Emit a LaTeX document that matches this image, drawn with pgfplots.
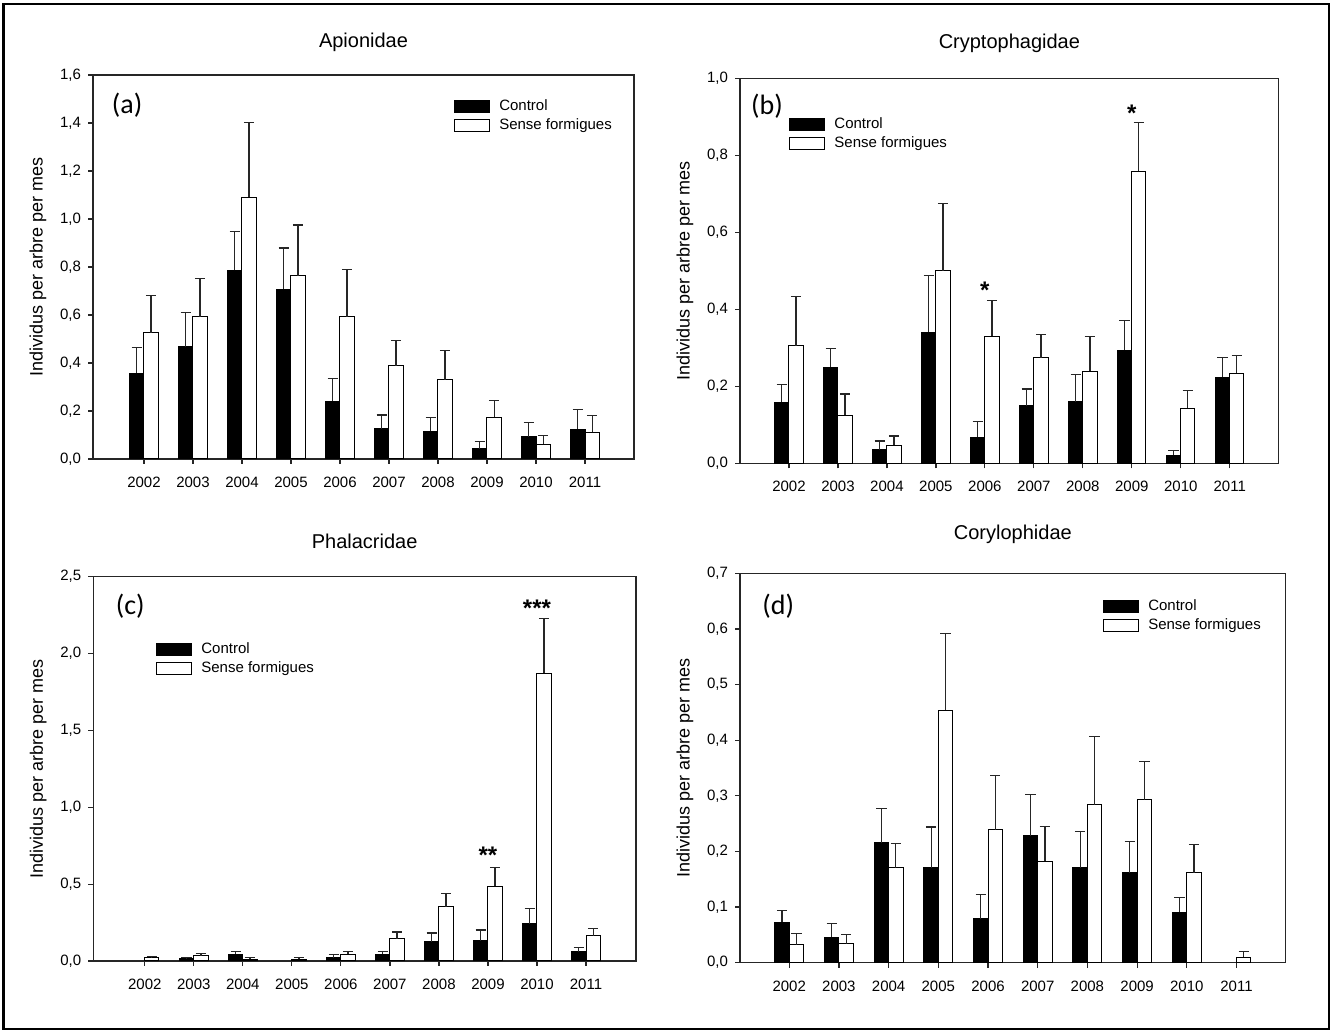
\documentclass[border=0pt]{standalone}
\usepackage{fontspec}
\setmainfont{Liberation Sans}
\newfontfamily\carlito{Carlito}
\usepackage{pgfplots}
\usepackage{pgfplotstable}
\pgfplotsset{compat=1.18}

% columns: year index, control, control se, sense formigues, sense formigues se
\pgfplotstableread{
x c ce s se
0 0.358 0.105 0.525 0.157
1 0.467 0.143 0.593 0.160
2 0.786 0.163 1.090 0.311
3 0.708 0.171 0.763 0.212
4 0.240 0.096 0.593 0.195
5 0.127 0.056 0.388 0.106
6 0.115 0.057 0.331 0.120
7 0.042 0.030 0.174 0.070
8 0.093 0.058 0.061 0.036
9 0.124 0.083 0.111 0.071
}\apion

\pgfplotstableread{
x c ce s se
0 0.159 0.046 0.305 0.128
1 0.250 0.048 0.125 0.055
2 0.035 0.023 0.047 0.024
3 0.341 0.147 0.500 0.174
4 0.068 0.041 0.330 0.093
5 0.149 0.044 0.274 0.060
6 0.160 0.070 0.239 0.091
7 0.294 0.076 0.758 0.128
8 0.021 0.012 0.143 0.047
9 0.224 0.051 0.234 0.045
}\crypto

\pgfplotstableread{
x c ce s se
0 nan nan 0.020 0.008
1 0.013 0.009 0.035 0.013
2 0.043 0.018 0.011 0.011
3 nan nan 0.011 0.011
4 0.022 0.021 0.043 0.018
5 0.043 0.018 0.146 0.043
6 0.126 0.056 0.353 0.085
7 0.132 0.070 0.486 0.121
8 0.243 0.097 1.873 0.354
9 0.059 0.028 0.163 0.047
}\phala

\pgfplotstableread{
x c ce s se
0 0.073 0.021 0.032 0.020
1 0.046 0.024 0.034 0.016
2 0.216 0.061 0.171 0.043
3 0.171 0.073 0.454 0.138
4 0.079 0.043 0.239 0.098
5 0.228 0.074 0.182 0.063
6 0.171 0.065 0.284 0.123
7 0.162 0.056 0.293 0.068
8 0.091 0.026 0.162 0.050
9 nan nan 0.010 0.010
}\coryl

\tikzset{
  letter/.style={font=\carlito\fontsize{14}{14}\selectfont},
  stars/.style={font=\fontsize{12}{12}\selectfont\bfseries},
}

\pgfplotsset{
  panel/.style={
    scale only axis,
    anchor=south west,
    ybar, bar width=0.29,
    ymin=0, enlargelimits=false,
    xtick={0,...,9},
    xticklabels={2002,2003,2004,2005,2006,2007,2008,2009,2010,2011},
    xtick pos=bottom, ytick pos=left,
    tick align=outside, major tick length=2.5pt,
    axis line style={line width=0.6pt, black!85},
    tick style={line width=0.6pt, black!85},
    tick label style={font=\fontsize{7.5}{8}\selectfont},
    xticklabel style={yshift=-3pt},
    yticklabel style={/pgf/number format/.cd, fixed, fixed zerofill, precision=1, use comma, assume math mode=true},
    ylabel={Individus per arbre per mes},
    every axis y label/.style={at={([xshift=-27.5pt]axis description cs:0,0.5)}, rotate=90, anchor=center, font=\fontsize{9}{9}\selectfont},
    every axis title/.style={at={(axis description cs:0.5,1)}, anchor=center, font=\fontsize{10}{10}\selectfont},
    legend image code/.code={\draw[#1, line width=0.5pt] (0pt,-3pt) rectangle (17.5pt,3pt);},
    legend cell align=left,
    legend style={draw=none, fill=none, inner sep=0pt, anchor=north west,
      font=\fontsize{7.5}{8}\selectfont, row sep=2.5pt, column sep=4.5pt,
      nodes={inner sep=0pt}},
    error bars/y dir=plus, error bars/y explicit,
    error bars/error bar style={line width=0.6pt, black!85},
    error bars/error mark options={rotate=90, line width=0.6pt, black!85, mark size=2.6pt},
  },
  ctrl/.style={fill=black, draw=black, line width=0.5pt, bar shift=-0.145},
  sens/.style={fill=white, draw=black, line width=0.5pt, bar shift=0.145},
}

\begin{document}
\begin{tikzpicture}
\useasboundingbox (0,0) rectangle (666pt,516pt);
\draw[line width=1.25pt] (1.8pt,1.5pt) rectangle (664.6pt,514pt);

% (a) Apionidae
\begin{axis}[panel, at={(46.5pt,286.5pt)}, width=270.5pt, height=192pt,
  xmin=-1.04, xmax=10, ymax=1.6, ytick distance=0.2,
  title={Apionidae}, title style={yshift=16.5pt},
  legend style={at={(rel axis cs:0.667,0.9375)}}]
\addplot[ctrl] table[x=x, y=c, y error=ce] {\apion};
\addplot[sens] table[x=x, y=s, y error=se] {\apion};
\legend{Control, Sense formigues}
\node[letter] at (rel axis cs:0.063,0.922) {(a)};
\end{axis}

% (b) Cryptophagidae
\begin{axis}[panel, at={(370pt,284.35pt)}, width=269.35pt, height=192.5pt,
  xmin=-1, xmax=10, ymax=1.0, ytick distance=0.2,
  title={Cryptophagidae}, title style={yshift=17.5pt},
  legend style={at={(rel axis cs:0.091,0.8995)}}]
\addplot[ctrl] table[x=x, y=c, y error=ce] {\crypto};
\addplot[sens] table[x=x, y=s, y error=se] {\crypto};
\legend{Control, Sense formigues}
\node[letter] at (rel axis cs:0.050,0.928) {(b)};
\node[stars] at (axis cs:4,0.450) {*};
\node[stars] at (axis cs:7,0.910) {*};
\end{axis}

% (c) Phalacridae
\begin{axis}[panel, at={(46.65pt,35.5pt)}, width=271.35pt, height=192.15pt,
  xmin=-1.05, xmax=10.02, ymax=2.5, ytick distance=0.5,
  title={Phalacridae}, title style={yshift=17.85pt},
  legend style={at={(rel axis cs:0.1155,0.830)}}]
\addplot[ctrl] table[x=x, y=c, y error=ce] {\phala};
\addplot[sens] table[x=x, y=s, y error=se] {\phala};
\legend{Control, Sense formigues}
\node[letter] at (rel axis cs:0.068,0.924) {(c)};
\node[stars] at (axis cs:7,0.685) {**};
\node[stars] at (axis cs:8,2.295) {***};
\end{axis}

% (d) Corylophidae
\begin{axis}[panel, at={(370pt,34.65pt)}, width=272.85pt, height=194.7pt,
  xmin=-0.99, xmax=9.99, ymax=0.7, ytick distance=0.1,
  title={Corylophidae}, title style={yshift=19.5pt},
  legend style={at={(rel axis cs:0.665,0.934)}}]
\addplot[ctrl] table[x=x, y=c, y error=ce] {\coryl};
\addplot[sens] table[x=x, y=s, y error=se] {\coryl};
\legend{Control, Sense formigues}
\node[letter] at (rel axis cs:0.070,0.916) {(d)};
\end{axis}
\end{tikzpicture}
\end{document}
